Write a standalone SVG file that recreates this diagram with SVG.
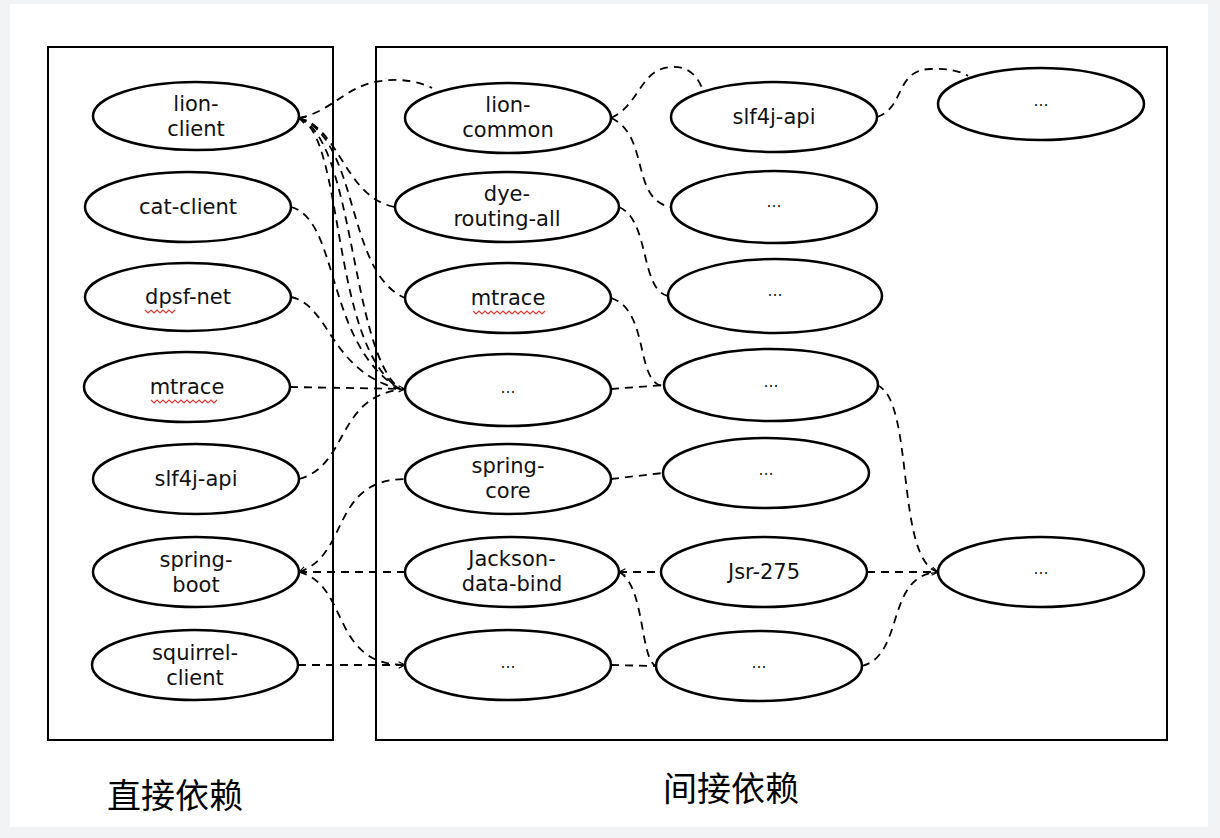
<svg xmlns="http://www.w3.org/2000/svg" width="1220" height="838" viewBox="0 0 1220 838">
<style>
.n ellipse{fill:#fff;stroke:#000;stroke-width:2.5}
.n text{font-family:"DejaVu Sans","Noto Sans",sans-serif;font-size:21px;fill:#111;text-anchor:middle}
.n text.d{font-size:15px}
.box{fill:none;stroke:#000;stroke-width:2}
.c path{fill:none;stroke:#000;stroke-width:1.8;stroke-dasharray:8 6}
.sq{fill:none;stroke:#e53935;stroke-width:1.2}
.lab{font-family:"Noto Sans CJK SC","Noto Sans",sans-serif;font-size:34px;fill:#000;text-anchor:middle}
</style>
<defs>
<marker id="a" viewBox="0 0 10 10" refX="9" refY="5" markerWidth="8" markerHeight="8" markerUnits="userSpaceOnUse" orient="auto-start-reverse">
<path d="M1,1 L9,5 L1,9" fill="none" stroke="#000" stroke-width="1.4"/>
</marker>
</defs>
<rect width="1220" height="838" fill="#f2f3f5"/>
<rect x="10" y="4" width="1198" height="823" fill="#fff"/>
<rect class="box" x="48" y="47" width="285" height="693"/>
<rect class="box" x="376" y="47" width="791" height="693"/>

<g class="c">
<path d="M299,118 C330,112 345,88 375,82 C400,77 420,82 432,88"/>
<path d="M299,118 C340,128 345,198 395,207" marker-start="url(#a)"/>
<path d="M299,118 C360,140 345,272 405,298" marker-start="url(#a)"/>
<path d="M299,118 C345,135 330,345 400,389" marker-start="url(#a)"/>
<path d="M299,118 C355,140 350,350 400,389"/>
<path d="M291,207 C340,220 325,345 400,389"/>
<path d="M291,297 C330,305 330,372 400,389"/>
<path d="M290,387 L405,389" marker-end="url(#a)"/>
<path d="M299,479 C350,465 335,395 405,389"/>
<path d="M299,572 C350,555 330,480 405,479" marker-start="url(#a)"/>
<path d="M299,572 L405,572"/>
<path d="M299,572 C350,585 330,665 405,665" marker-end="url(#a)"/>
<path d="M298,665 L405,665"/>
<path d="M611,118 C640,105 640,68 672,67 C690,66 698,78 702,88"/>
<path d="M611,118 C650,135 630,200 671,207"/>
<path d="M619,207 C650,220 640,290 668,296"/>
<path d="M611,298 C650,310 635,385 664,386"/>
<path d="M611,389 L664,385"/>
<path d="M611,479 L663,473"/>
<path d="M619,572 L661,572" marker-start="url(#a)"/>
<path d="M619,572 C645,585 640,660 656,666"/>
<path d="M611,665 L656,666"/>
<path d="M877,117 C905,108 895,70 930,69 C950,68 962,72 968,76"/>
<path d="M877,385 C915,400 895,560 938,572" marker-end="url(#a)"/>
<path d="M867,572 L938,572" marker-end="url(#a)"/>
<path d="M862,666 C905,655 885,575 938,572"/>
</g>

<g id="lion-client" class="n"><ellipse cx="196" cy="116" rx="103" ry="34"/><text x="196" y="111">lion-</text><text x="196" y="136">client</text></g>
<g id="cat-client" class="n"><ellipse cx="188" cy="207" rx="103" ry="35"/><text x="188" y="214">cat-client</text></g>
<g id="dpsf-net" class="n"><ellipse cx="188" cy="297" rx="103" ry="34"/><text x="188" y="304">dpsf-net</text></g>
<g id="mtrace-direct" class="n"><ellipse cx="187" cy="387" rx="103" ry="35"/><text x="187" y="394">mtrace</text></g>
<g id="slf4j-api-direct" class="n"><ellipse cx="196" cy="479" rx="103" ry="35"/><text x="196" y="486">slf4j-api</text></g>
<g id="spring-boot" class="n"><ellipse cx="196" cy="572" rx="103" ry="35"/><text x="196" y="567">spring-</text><text x="196" y="592">boot</text></g>
<g id="squirrel-client" class="n"><ellipse cx="195" cy="665" rx="103" ry="35"/><text x="195" y="660">squirrel-</text><text x="195" y="685">client</text></g>

<g id="lion-common" class="n"><ellipse cx="508" cy="118" rx="103" ry="35"/><text x="508" y="112">lion-</text><text x="508" y="137">common</text></g>
<g id="dye-routing-all" class="n"><ellipse cx="507" cy="207" rx="112" ry="35"/><text x="507" y="201">dye-</text><text x="507" y="226">routing-all</text></g>
<g id="mtrace-indirect" class="n"><ellipse cx="508" cy="298" rx="103" ry="35"/><text x="508" y="305">mtrace</text></g>
<g id="etc-m1" class="n"><ellipse cx="508" cy="390" rx="103" ry="36"/><text class="d" x="508" y="393">…</text></g>
<g id="spring-core" class="n"><ellipse cx="508" cy="479" rx="103" ry="35"/><text x="508" y="473">spring-</text><text x="508" y="498">core</text></g>
<g id="jackson-data-bind" class="n"><ellipse cx="512" cy="572" rx="107" ry="35"/><text x="512" y="566">Jackson-</text><text x="512" y="591">data-bind</text></g>
<g id="etc-m2" class="n"><ellipse cx="508" cy="665" rx="103" ry="35"/><text class="d" x="508" y="668">…</text></g>

<g id="slf4j-api-indirect" class="n"><ellipse cx="774" cy="117" rx="103" ry="35"/><text x="774" y="124">slf4j-api</text></g>
<g id="etc-t1" class="n"><ellipse cx="774" cy="207" rx="103" ry="36"/><text class="d" x="774" y="207">…</text></g>
<g id="etc-t2" class="n"><ellipse cx="775" cy="296" rx="107" ry="37"/><text class="d" x="775" y="296">…</text></g>
<g id="etc-t3" class="n"><ellipse cx="771" cy="385" rx="107" ry="36"/><text class="d" x="771" y="387">…</text></g>
<g id="etc-t4" class="n"><ellipse cx="766" cy="473" rx="103" ry="35"/><text class="d" x="766" y="475">…</text></g>
<g id="jsr-275" class="n"><ellipse cx="764" cy="572" rx="103" ry="35"/><text x="764" y="579">Jsr-275</text></g>
<g id="etc-t5" class="n"><ellipse cx="759" cy="666" rx="103" ry="35"/><text class="d" x="759" y="668">…</text></g>

<g id="etc-f1" class="n"><ellipse cx="1041" cy="104" rx="103" ry="36"/><text class="d" x="1041" y="106">…</text></g>
<g id="etc-f2" class="n"><ellipse cx="1041" cy="572" rx="103" ry="35"/><text class="d" x="1041" y="574">…</text></g>

<path class="sq" d="M145,310 l3,3 l3,-3 l3,3 l3,-3 l3,3 l3,-3 l3,3 l3,-3 l3,3 l3,-3"/>
<path class="sq" d="M151,400 l3,3 l3,-3 l3,3 l3,-3 l3,3 l3,-3 l3,3 l3,-3 l3,3 l3,-3 l3,3 l3,-3 l3,3 l3,-3 l3,3 l3,-3 l3,3 l3,-3 l3,3 l3,-3 l3,3 l3,-3"/>
<path class="sq" d="M473,311 l3,3 l3,-3 l3,3 l3,-3 l3,3 l3,-3 l3,3 l3,-3 l3,3 l3,-3 l3,3 l3,-3 l3,3 l3,-3 l3,3 l3,-3 l3,3 l3,-3 l3,3 l3,-3 l3,3 l3,-3 l3,3 l3,-3"/>

<text class="lab" x="175" y="808">直接依赖</text>
<text class="lab" x="731" y="801">间接依赖</text>
</svg>
